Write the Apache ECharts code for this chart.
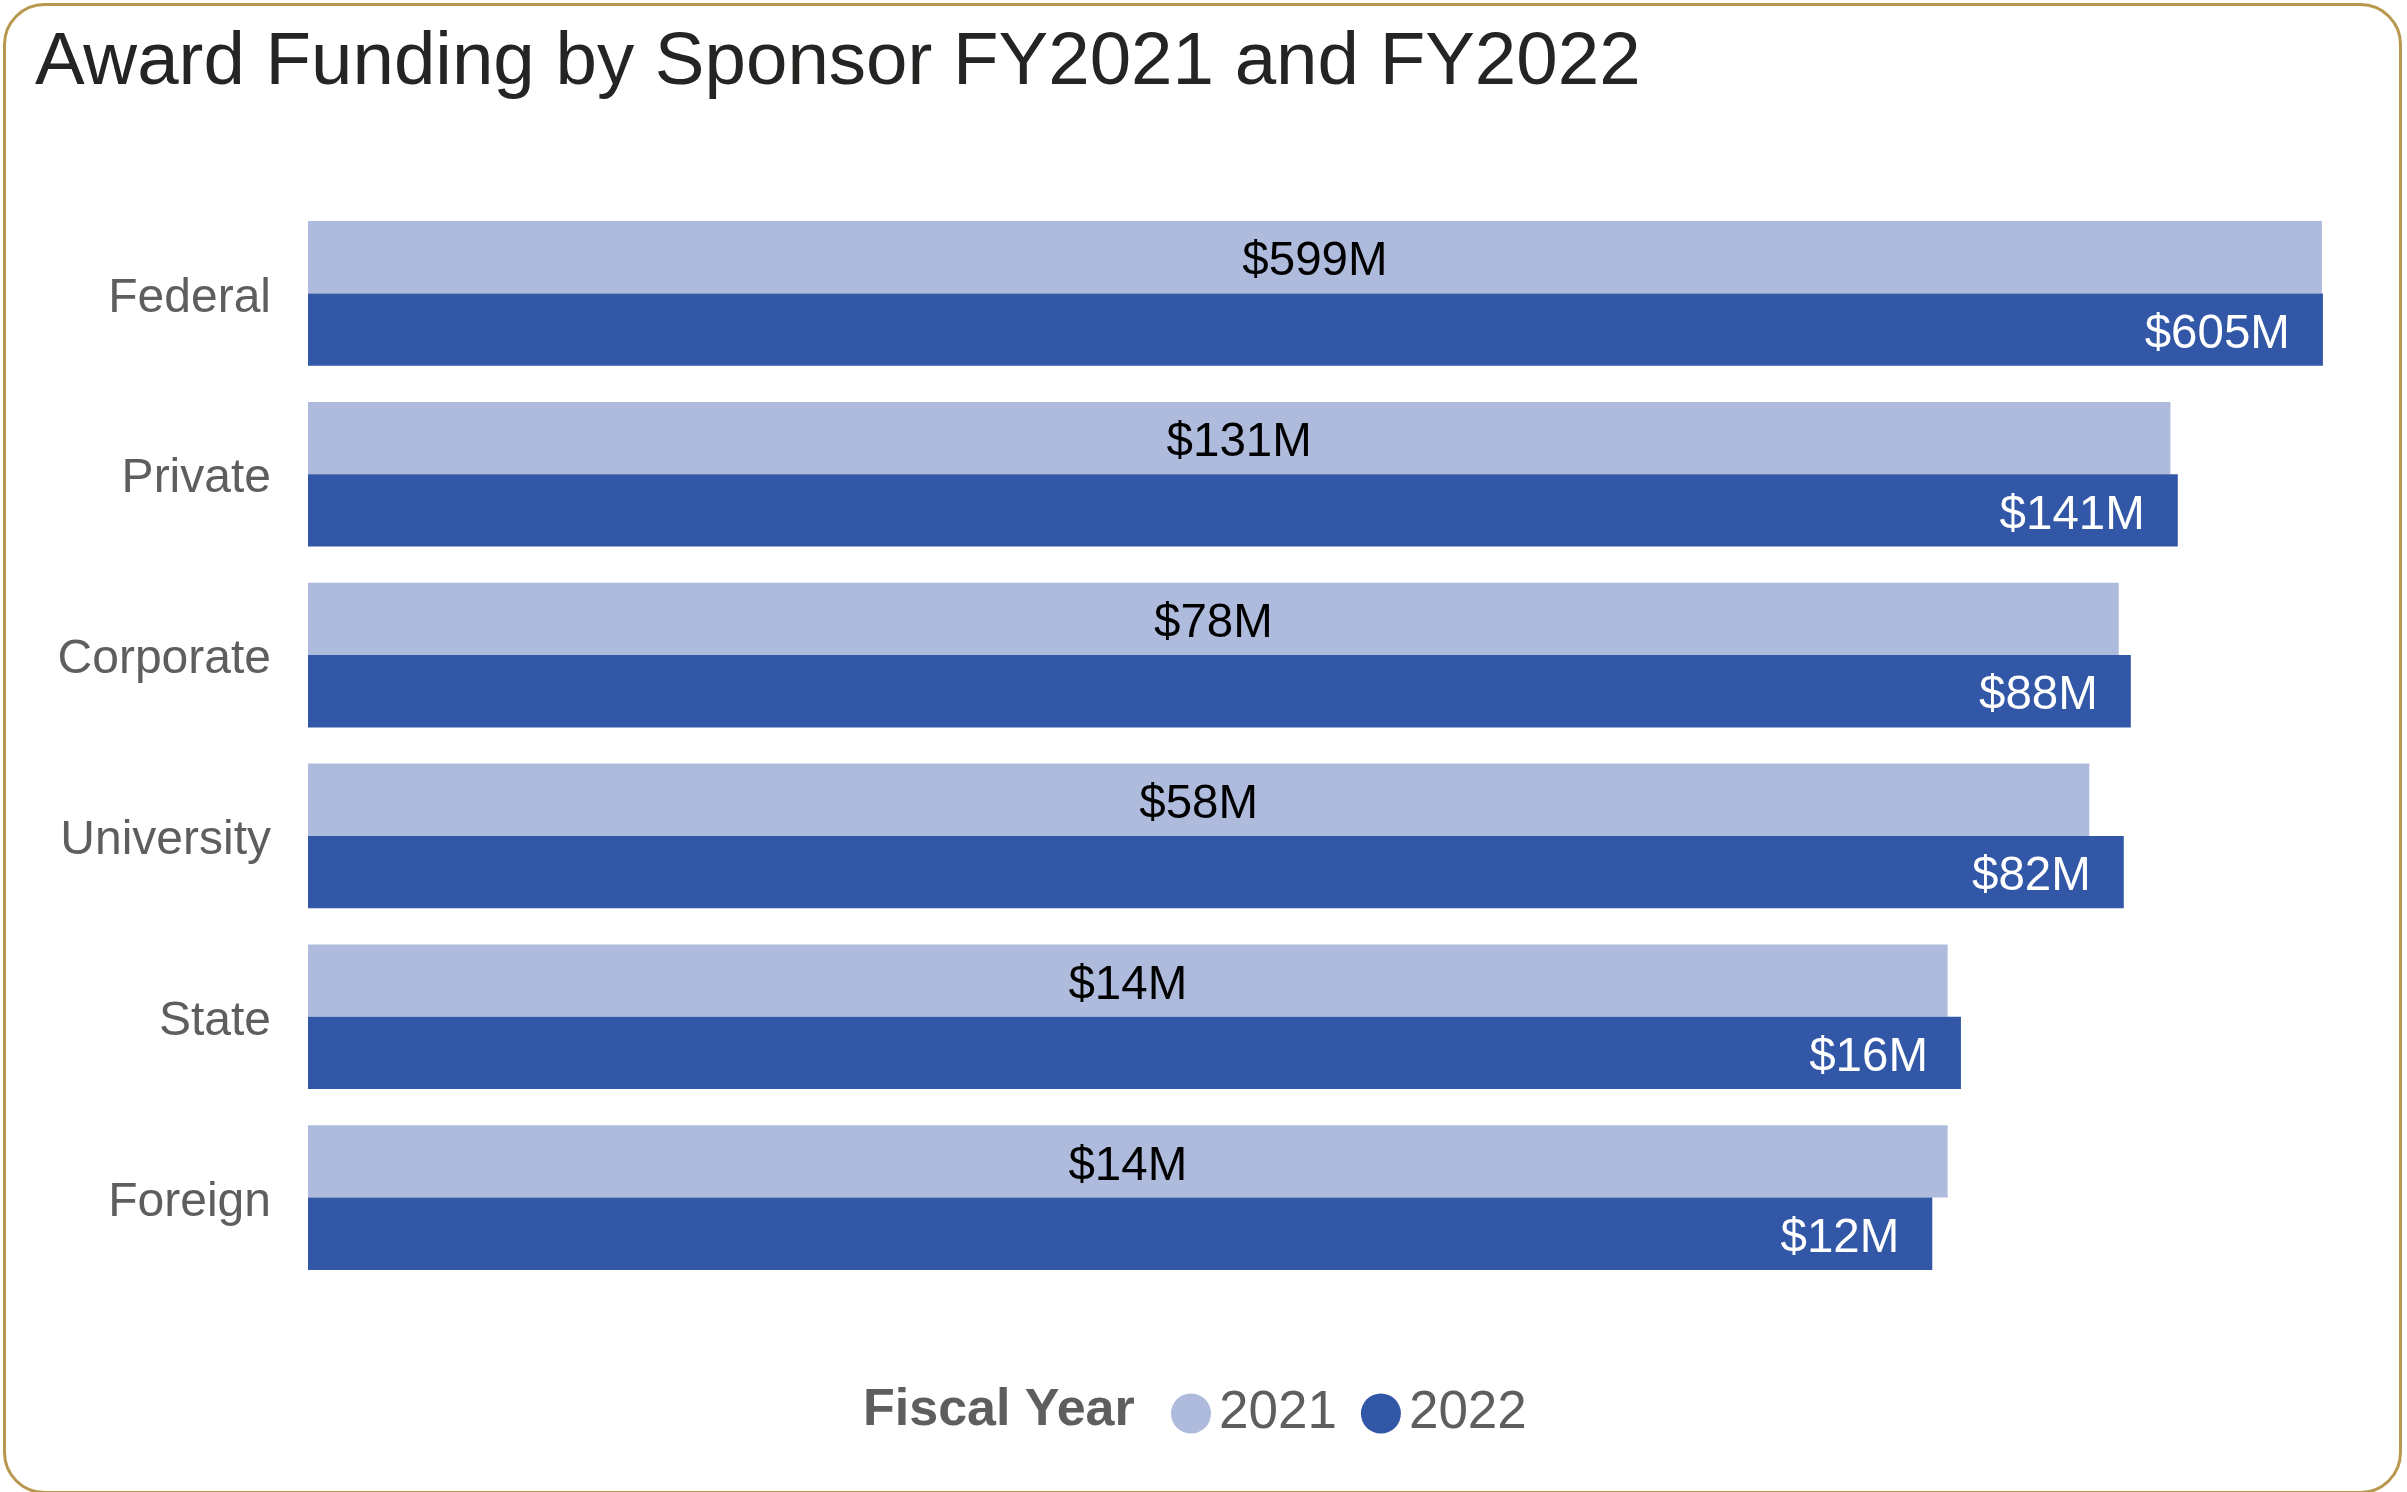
<!DOCTYPE html>
<html lang="en">
<head>
<meta charset="UTF-8">
<title>Award Funding by Sponsor</title>
<script src="https://cdn.jsdelivr.net/npm/echarts@6/dist/echarts.min.js"></script>
<style>
    html, body, #chart {
        width: 100%;
        height: 100%;
        margin: 0;
        padding: 0;
        background: #fff;
    }
</style>
</head>
<body>
<div id="chart"></div>
<script>
    // sponsors, top to bottom
    const sponsors = ["Federal", "Private", "Corporate", "University", "State", "Foreign"];
    // award funding in millions of dollars
    const fy2021 = [599, 131, 78, 58, 14, 14];
    const fy2022 = [605, 141, 88, 82, 16, 12];
    const years = ["2021", "2022"];

    const font = "Arial, 'Liberation Sans', sans-serif";
    const chart = echarts.init(document.getElementById("chart"));

    function money(p) {
        return "$" + Math.round(p.value / 1e6) + "M";
    }

    const option = {
        backgroundColor: "#fff",
        animation: false,
        title: [
            {
                text: "Award Funding by Sponsor FY2021 and FY2022",
                left: 30,
                top: 21,
                textStyle: { fontFamily: font, fontSize: 74.5, fontWeight: "normal", color: "#252423" }
            },
            {
                text: "Fiscal Year",
                left: 858,
                top: 1380,
                textStyle: { fontFamily: font, fontSize: 52, fontWeight: "bold", color: "#605e5c" }
            }
        ],
        legend: {
            data: years,
            left: 1166,
            top: 1382,
            icon: "circle",
            itemWidth: 40,
            itemHeight: 40,
            itemGap: 24,
            textStyle: { fontFamily: font, fontSize: 53, color: "#605e5c", padding: [0, 0, 0, 3] }
        },
        grid: { left: 308, right: 34, top: 203, bottom: 204, containLabel: false },
        xAxis: {
            type: "log",
            logBase: 10,
            min: 1,
            max: 1e9,
            show: false
        },
        yAxis: {
            type: "category",
            data: sponsors,
            inverse: true,
            axisLine: { show: false },
            axisTick: { show: false },
            axisLabel: {
                margin: 37,
                formatter: function (v) { return "{n|" + v + "}"; },
                rich: {
                    n: { fontFamily: font, fontSize: 48, color: "#605e5c", padding: [10, 0, 0, 0] }
                }
            }
        },
        series: [
            {
                name: "2021",
                type: "bar",
                data: fy2021.map(function (v) { return v * 1e6; }),
                barGap: "0%",
                barCategoryGap: "20%",
                itemStyle: { color: "#aebbdc" },
                label: {
                    show: true,
                    position: "inside",
                    offset: [0, 5],
                    formatter: money,
                    fontFamily: font,
                    fontSize: 47.5,
                    color: "#000"
                }
            },
            {
                name: "2022",
                type: "bar",
                data: fy2022.map(function (v) { return v * 1e6; }),
                barGap: "0%",
                barCategoryGap: "20%",
                itemStyle: { color: "#3257a7" },
                label: {
                    show: true,
                    position: "insideRight",
                    distance: 33,
                    offset: [0, 5],
                    formatter: money,
                    fontFamily: font,
                    fontSize: 47.5,
                    color: "#fff"
                }
            }
        ],
        graphic: [
            {
                type: "rect",
                left: 2,
                top: 2,
                shape: { width: 2396, height: 1488, r: 40 },
                style: { fill: "none", stroke: "#b8974e", lineWidth: 3 },
                silent: true,
                z: 100
            }
        ]
    };

    chart.setOption(option);
</script>
</body>
</html>
